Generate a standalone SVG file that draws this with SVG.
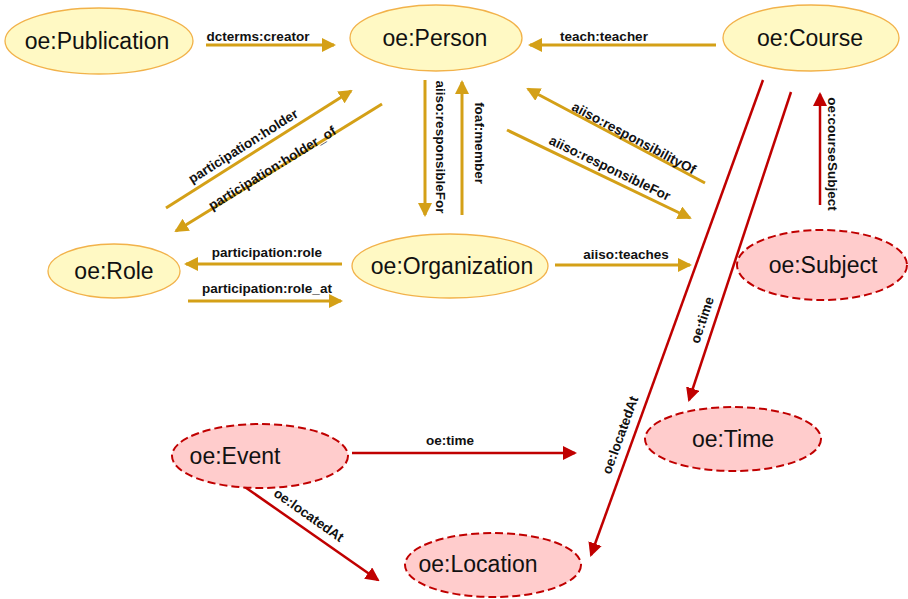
<svg xmlns="http://www.w3.org/2000/svg" width="908" height="599" viewBox="0 0 908 599">
<style>
.yn{fill:#FFF9C4;stroke:#F2B24A;stroke-width:1.3}
.rn{fill:#FFCCCC;stroke:#C00000;stroke-width:2;stroke-dasharray:8 4}
.nt{font-family:"Liberation Sans",Arial,sans-serif;font-size:23px;fill:#111;text-anchor:middle;dominant-baseline:central}
.g{stroke:#D4A017;stroke-width:3;fill:none;marker-end:url(#ag)}
.r{stroke:#C00000;stroke-width:2.5;fill:none;marker-end:url(#ar)}
.el{font-family:"Liberation Sans",Arial,sans-serif;font-size:13.5px;font-weight:bold;fill:#111;text-anchor:middle}
</style>
<defs>
<marker id="ag" viewBox="0 0 14 14" refX="12" refY="7" markerWidth="14" markerHeight="14" orient="auto" markerUnits="userSpaceOnUse"><path d="M0,0 L14,7 L0,14 z" fill="#D4A017"/></marker>
<marker id="ar" viewBox="0 0 14 14" refX="12" refY="7" markerWidth="14" markerHeight="14" orient="auto" markerUnits="userSpaceOnUse"><path d="M0,0 L14,7 L0,14 z" fill="#C00000"/></marker>
</defs>
<rect width="908" height="599" fill="#fff"/>
<g id="connectors">
<line class="g" x1="206" y1="45" x2="334" y2="45"/>
<line class="g" x1="716" y1="45" x2="530" y2="45"/>
<line class="g" x1="166" y1="208" x2="351" y2="91"/>
<line class="g" x1="382" y1="104" x2="176" y2="231"/>
<line class="g" x1="425" y1="80" x2="425" y2="215"/>
<line class="g" x1="462" y1="215" x2="462" y2="82"/>
<line class="g" x1="705" y1="183" x2="528" y2="89"/>
<line class="g" x1="507" y1="130" x2="690" y2="218"/>
<line class="g" x1="342" y1="264" x2="186" y2="264"/>
<line class="g" x1="188" y1="301" x2="341" y2="301"/>
<line class="g" x1="555" y1="265" x2="690" y2="265"/>
<line class="r" x1="820" y1="205" x2="820" y2="94"/>
<line class="r" x1="763" y1="80" x2="591" y2="555"/>
<line class="r" x1="791" y1="92" x2="689" y2="400"/>
<line class="r" x1="352" y1="453" x2="575" y2="453"/>
<line class="r" x1="242" y1="485" x2="378" y2="580"/>
<text class="el" x="258" y="41">dcterms:creator</text>
<text class="el" x="604" y="41">teach:teacher</text>
<text class="el" transform="translate(243,146) rotate(-32.3)" dy="0.35em">participation:holder</text>
<text class="el" transform="translate(272,168) rotate(-31.6)" dy="0.35em">participation:holder_of</text>
<text class="el" transform="translate(441,147) rotate(90)" dy="0.35em">aiiso:responsibleFor</text>
<text class="el" transform="translate(480,143) rotate(90)" dy="0.35em">foaf:member</text>
<text class="el" transform="translate(634,138) rotate(28)" dy="0.35em">aiiso:responsibilityOf</text>
<text class="el" transform="translate(610,168) rotate(25.7)" dy="0.35em">aiiso:responsibleFor</text>
<text class="el" x="267" y="257">participation:role</text>
<text class="el" x="267" y="293">participation:role_at</text>
<text class="el" x="626" y="259">aiiso:teaches</text>
<text class="el" transform="translate(833,154) rotate(90)" dy="0.35em">oe:courseSubject</text>
<text class="el" transform="translate(620,435) rotate(-70)" dy="0.35em">oe:locatedAt</text>
<text class="el" transform="translate(702,320) rotate(-71.6)" dy="0.35em">oe:time</text>
<text class="el" x="450" y="445">oe:time</text>
<text class="el" transform="translate(309,515) rotate(35.2)" dy="0.35em">oe:locatedAt</text>
</g>
<g id="publication"><ellipse class="yn" cx="99" cy="41" rx="94" ry="33"/><text class="nt" x="97" y="41">oe:Publication</text></g>
<g id="person"><ellipse class="yn" cx="436" cy="38" rx="86" ry="33"/><text class="nt" x="435" y="38">oe:Person</text></g>
<g id="course"><ellipse class="yn" cx="811" cy="38" rx="88" ry="33"/><text class="nt" x="810" y="38">oe:Course</text></g>
<g id="role"><ellipse class="yn" cx="114" cy="271" rx="66" ry="27"/><text class="nt" x="114" y="271">oe:Role</text></g>
<g id="organization"><ellipse class="yn" cx="450" cy="266" rx="98" ry="32"/><text class="nt" x="452" y="266">oe:Organization</text></g>
<g id="subject"><ellipse class="rn" cx="822" cy="265" rx="85" ry="35"/><text class="nt" x="823" y="265">oe:Subject</text></g>
<g id="time"><ellipse class="rn" cx="733" cy="439" rx="88" ry="32"/><text class="nt" x="733" y="439">oe:Time</text></g>
<g id="event"><ellipse class="rn" cx="260" cy="456" rx="88" ry="32"/><text class="nt" x="235" y="456">oe:Event</text></g>
<g id="location"><ellipse class="rn" cx="493" cy="565" rx="88" ry="32"/><text class="nt" x="478" y="564">oe:Location</text></g>
</svg>
